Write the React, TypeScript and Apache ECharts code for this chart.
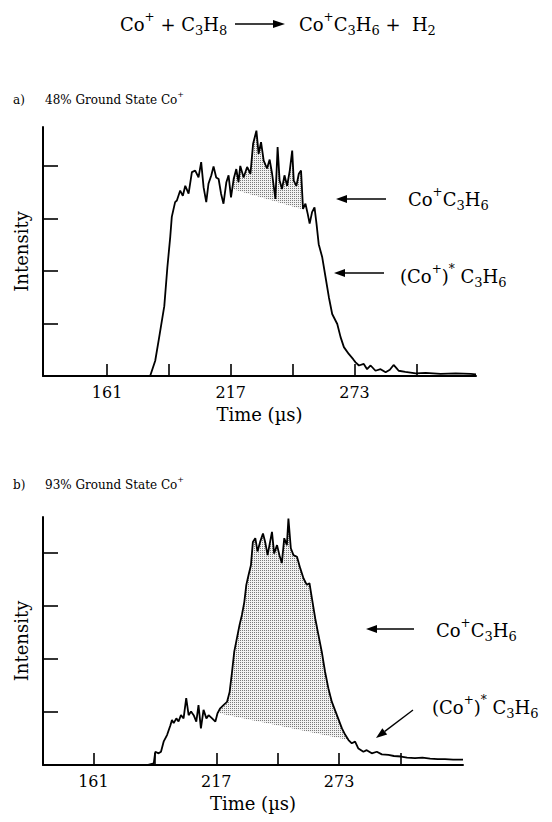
import React, { useEffect, useRef } from "react";
import * as echarts from "echarts";

const SERIF = "'DejaVu Serif', 'Liberation Serif', serif";

// ---- data (time in µs, intensity in tick units) ----
const X_TICKS = [161, 189, 217, 245, 273, 301];
const X_LABELS = [161, 217, 273];
const Y_TICKS = [1, 2, 3, 4];

const CURVE_A: number[][] = [
  [132, 0], [180.5, 0], [182.8, 0.29], [184.6, 0.74], [186.9, 1.33], [188.3, 2.07], [189.6, 2.65],
  [190.3, 3.03], [191.8, 3.31], [192.6, 3.34], [194.1, 3.53], [195.3, 3.43], [196.4, 3.62],
  [197.9, 3.47], [199.4, 3.88], [200.9, 3.91], [202.4, 3.78], [203.6, 4.07], [204.7, 3.59],
  [205.9, 3.31], [206.9, 3.66], [208.2, 3.82], [209.2, 3.99], [210.4, 3.78], [211.5, 3.75],
  [212.6, 3.47], [213.7, 3.28], [215.0, 3.69], [216.0, 3.82], [217.1, 3.40], [218.3, 3.75],
  [219.5, 3.94], [220.5, 3.69], [221.3, 4.0], [222.8, 3.78], [224.4, 3.98], [225.9, 3.85],
  [227.1, 4.42], [228.6, 4.67], [229.6, 4.23], [230.7, 4.45], [231.9, 4.10], [233.4, 3.95],
  [234.6, 4.12], [235.7, 3.85], [237.2, 3.37], [238.2, 4.36], [239.1, 3.72], [240.2, 3.56],
  [241.3, 3.82], [242.5, 3.62], [243.7, 3.91], [244.8, 4.29], [245.5, 3.72], [246.7, 3.62],
  [247.8, 3.85], [248.8, 3.91], [249.7, 3.18], [250.8, 3.28], [251.8, 3.09], [252.7, 2.90],
  [253.8, 3.12], [254.9, 3.21], [255.8, 2.90], [256.8, 2.51], [258.4, 2.26], [259.9, 1.88],
  [261.4, 1.50], [262.9, 1.18], [265.2, 0.99], [266.7, 0.74], [268.2, 0.55], [270.4, 0.42],
  [272.4, 0.32], [273.5, 0.26], [275.0, 0.20], [277.2, 0.23], [278.7, 0.13], [280.3, 0.20],
  [282.5, 0.10], [284.8, 0.13], [287.1, 0.07], [289.0, 0.12], [290.7, 0.21], [292.0, 0.15],
  [293.0, 0.10], [296.0, 0.08], [300.7, 0.05], [305.2, 0.06], [312.0, 0.04], [318.8, 0.05],
  [325.6, 0.04], [328, 0.03],
];
// lower boundary of the shaded (ground state) part: start and end points
const SHADE_A: number[][] = [[217.6, 3.56], [249.7, 3.17]];

const CURVE_B: number[][] = [
  [138, 0], [185.5, 0], [188.5, 0.03], [189.2, 0.25], [190.7, 0.22], [191.8, 0.25], [193.0, 0.44],
  [194.6, 0.57], [196.1, 0.75], [196.8, 0.85], [197.6, 0.79], [198.8, 0.88], [199.8, 0.82],
  [200.9, 0.94], [202.1, 0.88], [203.3, 1.26], [204.4, 0.94], [205.5, 1.01], [206.7, 0.94],
  [207.9, 0.82], [208.9, 1.13], [210.0, 0.69], [211.2, 1.04], [212.5, 0.88], [213.5, 0.94],
  [215.1, 0.88], [216.6, 0.82], [217.6, 0.98], [218.8, 1.07], [220.3, 1.13], [221.9, 1.19],
  [223.1, 1.38], [224.2, 1.76], [225.2, 2.14], [226.4, 2.39], [227.6, 2.64], [228.7, 2.83],
  [229.8, 3.08], [230.7, 3.40], [231.7, 3.58], [232.8, 3.77], [233.7, 4.21], [234.8, 4.28],
  [235.8, 4.03], [237.0, 4.21], [238.3, 4.37], [239.3, 4.21], [240.4, 3.96], [242.4, 4.40],
  [243.4, 3.99], [244.7, 4.15], [245.8, 3.96], [246.9, 3.81], [248.0, 4.28], [249.2, 4.15],
  [249.9, 4.65], [251.0, 4.09], [252.2, 3.96], [253.8, 3.93], [255.3, 3.71], [256.8, 3.52],
  [258.3, 3.40], [259.5, 3.43], [260.6, 3.15], [262.1, 2.77], [263.6, 2.45], [265.1, 2.14],
  [266.6, 1.76], [268.1, 1.45], [269.7, 1.19], [272.0, 0.94], [274.3, 0.69], [275.8, 0.57],
  [277.3, 0.47], [278.8, 0.41], [280.3, 0.44], [281.8, 0.31], [284.1, 0.25], [285.6, 0.28],
  [287.9, 0.22], [290.2, 0.25], [292.5, 0.20], [295.5, 0.19], [298.0, 0.17], [301.3, 0.16],
  [304.0, 0.14], [307.6, 0.13], [311.0, 0.14], [314.5, 0.12], [318.0, 0.11], [321.3, 0.11],
  [325.0, 0.10], [329.5, 0.10],
];
const SHADE_B: number[][] = [[217.6, 0.98], [277.3, 0.47]];

// texts
const EQ_LEFT = "{m|Co}{sp|+}{m| + C}{sb|3}{m|H}{sb|8}";
const EQ_RIGHT = "{m|Co}{sp|+}{m|C}{sb|3}{m|H}{sb|6}{m| +  H}{sb|2}";
const LBL_GROUND = "{m|Co}{sp|+}{m|C}{sb|3}{m|H}{sb|6}";
const LBL_EXCITED = "{m|(Co}{sp|+}{m|)}{sp|*}{m| C}{sb|3}{m|H}{sb|6}";
const HEAD_A = "{m|48% Ground State Co}{sp|+}";
const HEAD_B = "{m|93% Ground State Co}{sp|+}";

function richSet(fs: number, ss: number) {
  return {
    m: { fontSize: fs, fontFamily: SERIF, lineHeight: fs + 8, fill: "#000" },
    sb: { fontSize: ss, fontFamily: SERIF, lineHeight: ss + 1, verticalAlign: "bottom", fill: "#000" },
    sp: { fontSize: ss - 1, fontFamily: SERIF, lineHeight: ss + 1, verticalAlign: "top", fill: "#000" },
  };
}

function richText(x: number, y: number, text: string, fs: number, ss: number) {
  return {
    type: "text",
    x,
    y,
    silent: true,
    style: {
      text,
      rich: richSet(fs, ss),
      align: "left",
      verticalAlign: "middle",
      textAlign: "left",
      textVerticalAlign: "middle",
    },
  };
}

function plainText(x: number, y: number, text: string, fs: number, weight = "normal") {
  return {
    type: "text",
    x,
    y,
    silent: true,
    style: {
      text,
      fontSize: fs,
      fontFamily: SERIF,
      fontWeight: weight,
      fill: "#000",
      align: "left",
      verticalAlign: "middle",
      textAlign: "left",
      textVerticalAlign: "middle",
    },
  };
}

function arrow(x1: number, y1: number, x2: number, y2: number, head = 10, half = 4, w = 1.3) {
  // tail (x1,y1) -> tip (x2,y2)
  const dx = x1 - x2;
  const dy = y1 - y2;
  const len = Math.sqrt(dx * dx + dy * dy);
  const ux = dx / len;
  const uy = dy / len;
  const bx = x2 + ux * head;
  const by = y2 + uy * head;
  const px = -uy;
  const py = ux;
  return [
    { type: "line", silent: true, shape: { x1, y1, x2: bx, y2: by }, style: { stroke: "#000", lineWidth: w } },
    {
      type: "polygon",
      silent: true,
      shape: { points: [[x2, y2], [bx + px * half, by + py * half], [bx - px * half, by - py * half]] },
      style: { fill: "#000" },
    },
  ];
}

function shadePolygon(curve: number[][], line: number[][]) {
  const t0 = line[0][0];
  const t1 = line[1][0];
  const inner = curve.filter((p) => p[0] > t0 && p[0] < t1);
  return [line[0], ...inner, line[1]];
}

function xAxis(gridIndex: number, min: number, max: number) {
  return {
    type: "value",
    gridIndex,
    min,
    max,
    axisLine: { show: true, onZero: false, lineStyle: { color: "#000", width: 2 } },
    axisTick: { show: true, inside: true, length: 12, customValues: X_TICKS, lineStyle: { color: "#000", width: 1.6 } },
    axisLabel: { show: true, customValues: X_LABELS, color: "#000", fontSize: 16, fontFamily: SERIF, margin: 8 },
    splitLine: { show: false },
    name: "Time (µs)",
    nameLocation: "middle",
    nameGap: 29,
    nameTextStyle: { color: "#000", fontSize: 18, fontFamily: SERIF },
  };
}

function yAxis(gridIndex: number, max: number) {
  return {
    type: "value",
    gridIndex,
    min: 0,
    max,
    axisLine: { show: true, onZero: false, lineStyle: { color: "#000", width: 2 } },
    axisTick: { show: true, inside: true, length: 15, customValues: Y_TICKS, lineStyle: { color: "#000", width: 1.6 } },
    axisLabel: { show: false },
    splitLine: { show: false },
    name: "Intensity",
    nameLocation: "middle",
    nameRotate: 90,
    nameGap: 13,
    nameTextStyle: { color: "#000", fontSize: 18, fontFamily: SERIF },
  };
}

export default function App() {
  const ref = useRef<HTMLDivElement>(null);

  useEffect(() => {
    if (!ref.current) return;
    const chart = echarts.init(ref.current, null, { renderer: "svg" });

    const cv = document.createElement("canvas");
    cv.width = 2;
    cv.height = 2;
    const ctx = cv.getContext("2d");
    if (ctx) {
      ctx.fillStyle = "#f2f2f2";
      ctx.fillRect(0, 0, 2, 2);
      ctx.fillStyle = "#7a7a7a";
      ctx.fillRect(0, 0, 1, 1);
    }
    const pattern: any = { image: cv, repeat: "repeat", imageWidth: 2, imageHeight: 2 };

    const polyA = shadePolygon(CURVE_A, SHADE_A);
    const polyB = shadePolygon(CURVE_B, SHADE_B);

    const shadeSeries = (idx: number, poly: number[][]) => ({
      type: "custom",
      xAxisIndex: idx,
      yAxisIndex: idx,
      silent: true,
      z: 1,
      data: [poly[0]],
      renderItem: (_params: any, api: any) => ({
        type: "polygon",
        shape: { points: poly.map((p) => api.coord(p)) },
        style: { fill: pattern, stroke: null },
      }),
    });

    const lineSeries = (idx: number, data: number[][]) => ({
      type: "line",
      xAxisIndex: idx,
      yAxisIndex: idx,
      data,
      symbol: "none",
      showSymbol: false,
      silent: true,
      z: 3,
      lineStyle: { color: "#000", width: 1.8 },
    });

    const graphic: any[] = [
      richText(120, 24, EQ_LEFT, 18, 13),
      ...arrow(235, 24, 285, 24, 12, 4, 1.3),
      richText(299, 24, EQ_RIGHT, 18, 13),
      plainText(13, 100, "a)", 12),
      richText(45, 100, HEAD_A, 12, 9),
      plainText(13, 485, "b)", 12),
      richText(45, 485, HEAD_B, 12, 9),
      richText(408, 199, LBL_GROUND, 18, 13),
      ...arrow(386, 199, 336, 199, 11, 4, 1.3),
      richText(400, 276, LBL_EXCITED, 18, 13),
      ...arrow(384, 273, 334, 273, 11, 4, 1.3),
      richText(436, 630, LBL_GROUND, 18, 13),
      ...arrow(414, 629, 366, 629, 11, 4, 1.3),
      richText(432, 707, LBL_EXCITED, 18, 13),
      ...arrow(413, 710, 376, 738, 11, 4, 1.3),
    ];

    const option: any = {
      animation: false,
      backgroundColor: "#ffffff",
      textStyle: { fontFamily: SERIF },
      grid: [
        { left: 43, top: 127, width: 433, height: 249, containLabel: false, outerBoundsMode: "none" },
        { left: 43, top: 517, width: 420, height: 248, containLabel: false, outerBoundsMode: "none" },
      ],
      xAxis: [xAxis(0, 132, 328), xAxis(1, 138, 329.5)],
      yAxis: [yAxis(0, 4.74), yAxis(1, 4.68)],
      series: [shadeSeries(0, polyA), lineSeries(0, CURVE_A), shadeSeries(1, polyB), lineSeries(1, CURVE_B)],
      graphic,
    };
    chart.setOption(option);
    return () => chart.dispose();
  }, []);

  return (
    <div
      ref={ref}
      style={{ position: "absolute", left: 0, top: 0, width: 552, height: 822, background: "#fff" }}
    />
  );
}
